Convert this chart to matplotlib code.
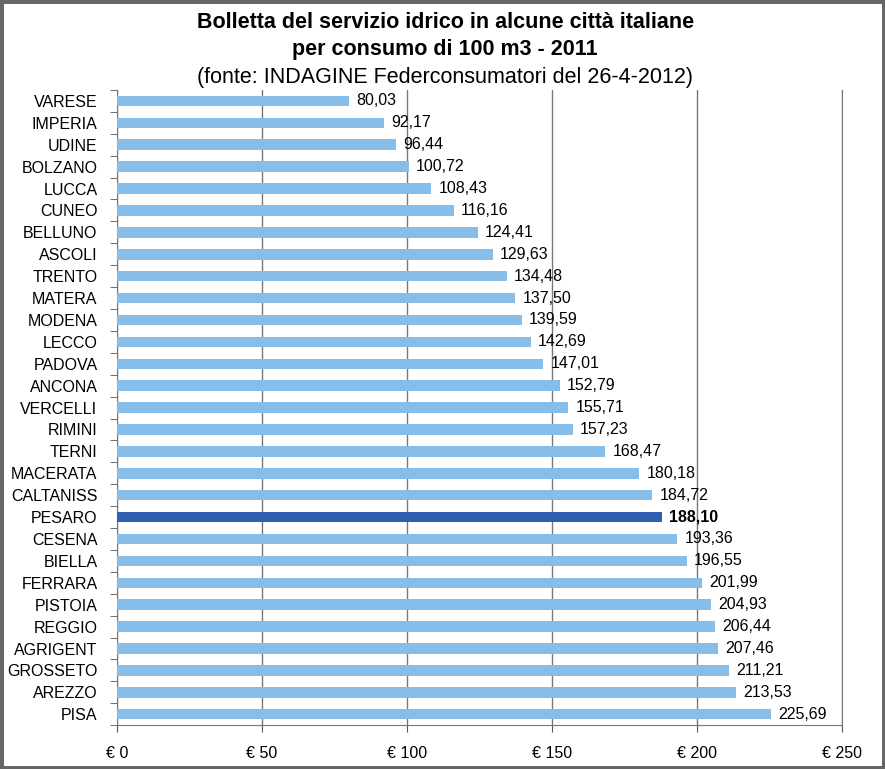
import matplotlib.pyplot as plt
from matplotlib.patches import Rectangle

# data (top to bottom as in the chart)
cities = ["VARESE", "IMPERIA", "UDINE", "BOLZANO", "LUCCA", "CUNEO", "BELLUNO",
          "ASCOLI", "TRENTO", "MATERA", "MODENA", "LECCO", "PADOVA", "ANCONA",
          "VERCELLI", "RIMINI", "TERNI", "MACERATA", "CALTANISS", "PESARO",
          "CESENA", "BIELLA", "FERRARA", "PISTOIA", "REGGIO", "AGRIGENT",
          "GROSSETO", "AREZZO", "PISA"]
bills = [80.03, 92.17, 96.44, 100.72, 108.43, 116.16, 124.41, 129.63, 134.48,
         137.50, 139.59, 142.69, 147.01, 152.79, 155.71, 157.23, 168.47, 180.18,
         184.72, 188.10, 193.36, 196.55, 201.99, 204.93, 206.44, 207.46, 211.21,
         213.53, 225.69]
highlight = "PESARO"
xticks = [0, 50, 100, 150, 200, 250]

plt.rcParams['font.family'] = ['Liberation Sans', 'DejaVu Sans']

fig = plt.figure(figsize=(8.85, 7.69), dpi=100)
ax = fig.add_axes([0.132, 0.057, 0.819, 0.826])

ypos = list(range(len(cities)))
colors = ["#2f5fb3" if c == highlight else "#86bde9" for c in cities]
ax.barh(ypos, bills, height=0.48, color=colors, zorder=3)

for y, v, c in zip(ypos, bills, cities):
    lab = f"{v:.2f}".replace(".", ",")
    ax.text(v + 2.5, y, lab, va="center", ha="left", fontsize=11.5,
            fontweight="bold" if c == highlight else "normal", zorder=4)

ax.set_ylim(len(cities) - 0.5, -0.5)
ax.set_xlim(0, 250)
ax.set_yticks(ypos)
ax.set_yticklabels(cities, fontsize=11.5)
ax.tick_params(axis="y", length=0, pad=14)
ax.set_yticks([y + 0.5 for y in [-1] + ypos], minor=True)
ax.tick_params(axis="y", which="minor", length=5, color="#555555")

ax.set_xticks(xticks)
ax.set_xticklabels([f"€ {t}" for t in xticks], fontsize=11.5)
ax.tick_params(axis="x", length=5, color="#555555", pad=10)

ax.grid(axis="x", color="#777777", linewidth=1, zorder=0)
ax.spines["top"].set_visible(False)
for s in ["left", "bottom", "right"]:
    ax.spines[s].set_color("#777777")

fig.text(0.503, 0.985, "Bolletta del servizio idrico in alcune città italiane",
         ha="center", va="top", fontsize=15.5, fontweight="bold")
fig.text(0.503, 0.949, "per consumo di 100 m3 - 2011",
         ha="center", va="top", fontsize=15.5, fontweight="bold")
fig.text(0.503, 0.913, "(fonte: INDAGINE Federconsumatori del 26-4-2012)",
         ha="center", va="top", fontsize=15.5)

fig.patches.append(Rectangle((0, 0), 1, 1, transform=fig.transFigure,
                             fill=False, edgecolor="#666666", linewidth=5))

fig.savefig("out.png", dpi=100)
